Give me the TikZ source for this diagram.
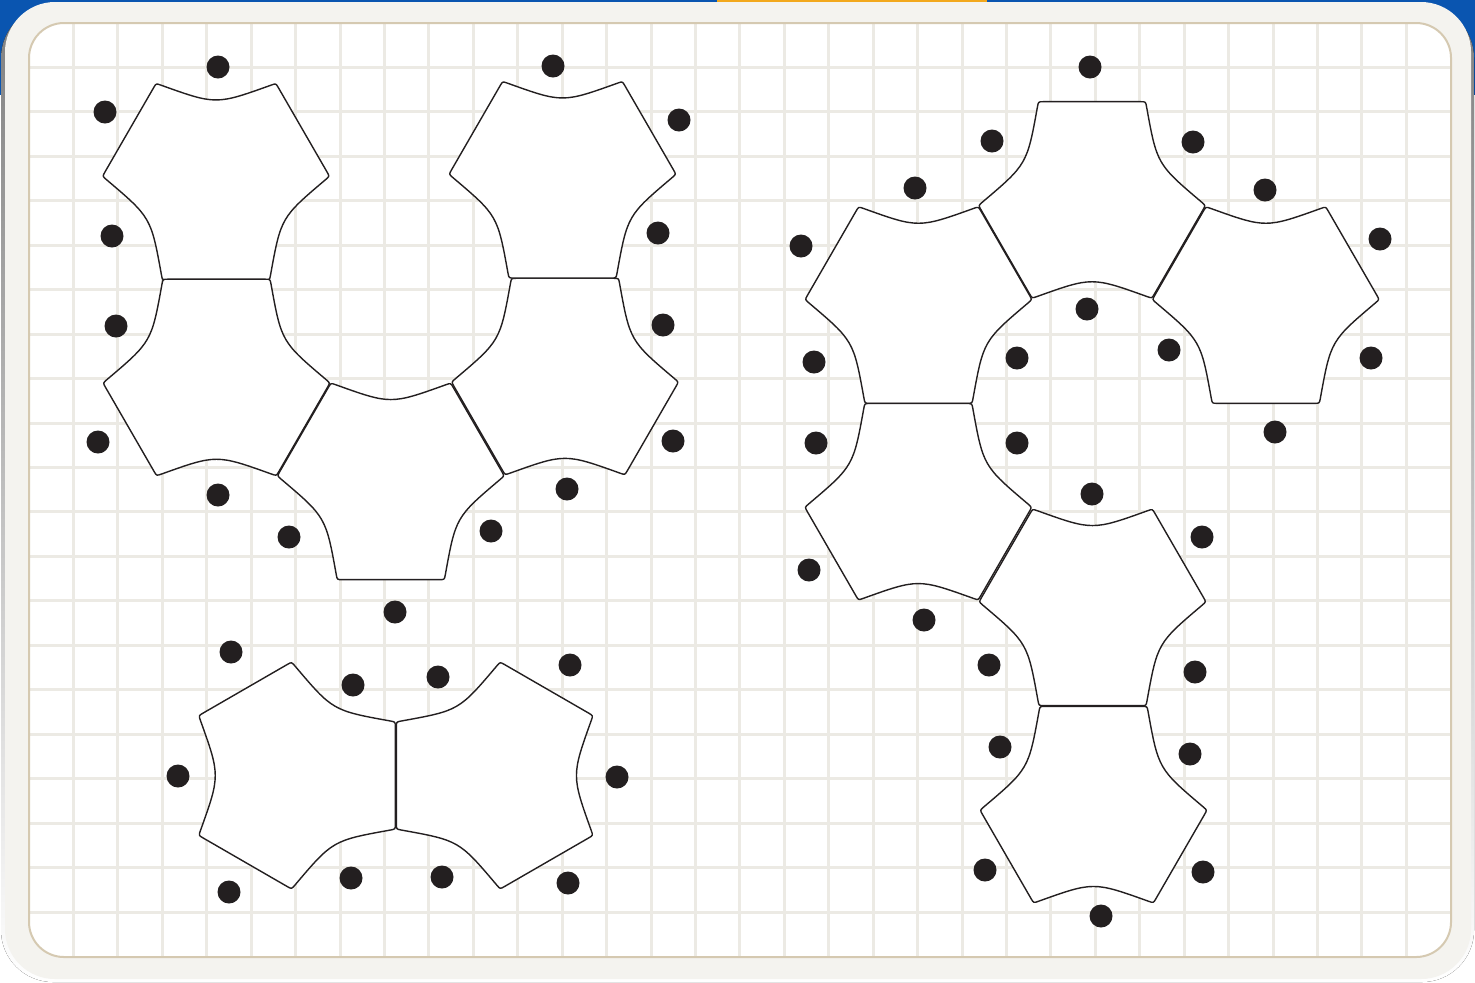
\documentclass[tikz,border=0pt]{standalone}
\usepackage{tikz}

\definecolor{ink}{HTML}{231F20}
\definecolor{headblue}{HTML}{0A55B0}
\definecolor{tabyellow}{HTML}{F2A81D}
\definecolor{cardbg}{HTML}{F4F3EF}
\definecolor{cardrim}{HTML}{D5C9B1}
\definecolor{gridline}{HTML}{ECEAE4}
\definecolor{shade}{HTML}{E6E6E8}

% one puzzle piece: hexagon with three straight and three hollow sides
\newcommand{\hextile}[3]{%
  \begin{scope}[shift={(#1,#2)}, rotate=#3]
    \filldraw[tile] (62.4,-92.17)
      \foreach \turn in {0,120,240}{
        .. controls ([rotate=\turn]59.9,-96.5) .. ([rotate=\turn]55.19,-94.81)
        .. controls ([rotate=\turn]0,-75) and ([rotate=\turn]0,-75) .. ([rotate=\turn]-55.19,-94.81)
        .. controls ([rotate=\turn]-59.9,-96.5) .. ([rotate=\turn]-62.4,-92.17)
        -- ([rotate=\turn+120]62.4,-92.17)
      } -- cycle;
  \end{scope}}

\begin{document}
\begin{tikzpicture}[
  x=0.5pt, y=-0.5pt,
  tile/.style={draw=ink, fill=white, line width=0.7pt, line join=round},
  peg/.style={fill=ink},
  gridrule/.style={draw=gridline, line width=1.5pt}
]
  \useasboundingbox (0,0) rectangle (1475,982);

  % Header and card
  \fill[white] (0,0) rectangle (1475,982);
  \fill[headblue] (0,0) rectangle (1475,95);
  \fill[tabyellow] (717,0) rectangle (987,3);
  \fill[shade, rounded corners=26pt] (1,6) rectangle (1474,982);
  \fill[cardbg, rounded corners=25pt] (5,2) rectangle (1471,979);
  \fill[white, rounded corners=17.5pt] (29,23) rectangle (1451,957);

  % Grid
  \begin{scope}
    \clip[rounded corners=17.5pt] (29,23) rectangle (1451,957);
    \foreach \k in {1,...,31}
      \draw[gridrule] (29+44.43*\k,23) -- (29+44.43*\k,957);
    \foreach \k in {1,...,20}
      \draw[gridrule] (29,23+44.45*\k) -- (1451,23+44.45*\k);
  \end{scope}
  \draw[cardrim, line width=1pt, rounded corners=17.5pt] (29,23) rectangle (1451,957);

  % Tiles
  \foreach \cx/\cy/\rot in {216/179.9/0, 216.5/379.3/60, 390.8/479.5/0, 565/378.4/60, 562.5/177.9/0,
      1092/201.8/60, 918.5/303.2/0, 1265.8/303.2/0, 918.3/503.6/60, 1092.5/605.5/0, 1093.5/806.5/60,
      295.2/775.5/-30, 496.5/775.5/30}
    \hextile{\cx}{\cy}{\rot};

  % Pegs
  \foreach \px/\py in {218/67, 105/112, 112/236, 116/326, 98/442, 218/495, 289/537,
      395/612, 491/531, 567/489, 673/441, 663/325, 658/233, 679/120, 553/66,
      1090/67, 992/141, 1193/142, 915/188, 1265/190, 801/246, 1380/239, 1087/309,
      1169/350, 1017/358, 814/362, 1371/358, 1275/432, 816/443, 1017/443, 1092/494,
      1202/537, 809/570, 924/620, 989/665, 1195/672, 1000/747, 1190/754, 985/870,
      1203/872, 1101/916,
      231/652, 353/685, 438/677, 570/665, 178/776, 617/777, 229/892, 351/878,
      442/877, 568/883}
    \fill[peg] (\px,\py) circle[radius=5.75pt];
\end{tikzpicture}
\end{document}
